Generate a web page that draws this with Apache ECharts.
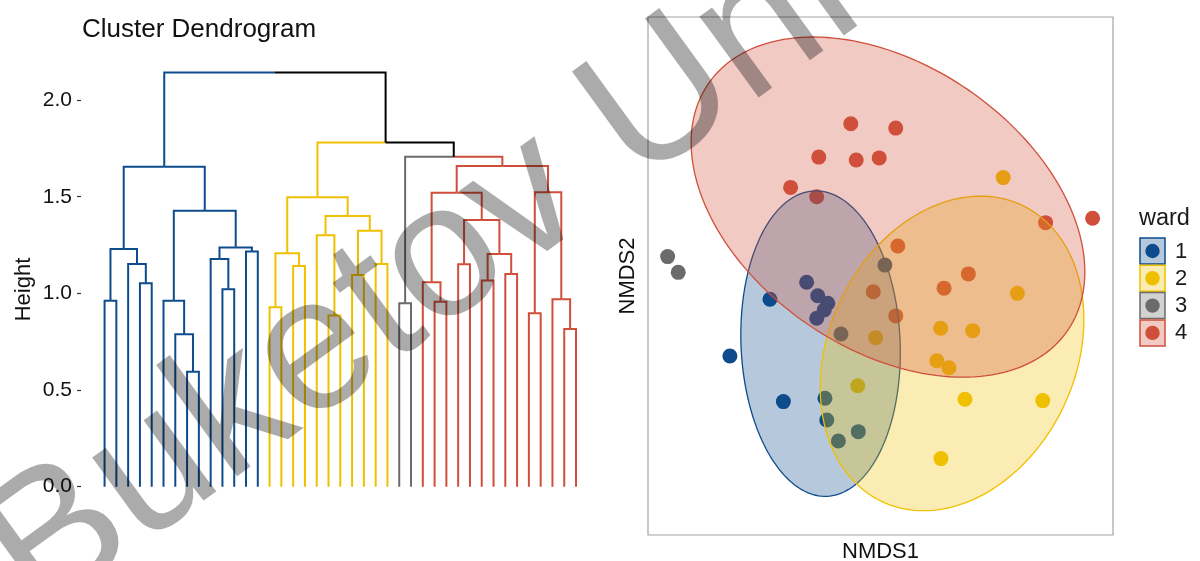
<!DOCTYPE html>
<html>
<head>
<meta charset="utf-8">
<script src="https://cdn.jsdelivr.net/npm/echarts@6/dist/echarts.min.js"></script>
<style>
  html, body { margin: 0; padding: 0; background: #ffffff; }
  #chart { width: 1200px; height: 561px; }
</style>
</head>
<body>
<div id="chart"></div>
<script>
// ---------------- Ward dendrogram ----------------
// Leaves are numbered 1..41 in plotting order. Each merge row joins two items:
// a negative number is a leaf, a positive number is an earlier merge row (1-based).
const mergeA = [-1, -4, -3, 1, -8, -7, -6, -11, -10, -13, 9, 7, 4,
                -15, -17, 14, -20, -19, -22, -24, 19, 18, 16,
                -26,
                -29, -28, -31, -33, -35, 28, 27, 26, -37, -40, -39, 33, 32,
                24, 23, 13];
const mergeB = [-2, -5, 2, 3, -9, 5, 6, -12, 8, -14, 10, 11, 12,
                -16, -18, 15, -21, 17, -23, -25, 20, 21, 22,
                -27,
                -30, 25, -32, -34, -36, 29, 30, 31, -38, -41, 34, 35, 36,
                37, 38, 39];
const mergeHeight = [0.962, 1.052, 1.152, 1.230, 0.595, 0.788, 0.962, 1.021, 1.178, 1.216, 1.237, 1.428, 1.655,
                     0.928, 1.142, 1.207, 0.885, 1.300, 1.095, 1.152, 1.324, 1.400, 1.497,
                     0.949,
                     0.957, 1.057, 1.150, 1.066, 1.100, 1.204, 1.380, 1.521, 0.897, 0.816, 0.969, 1.523, 1.659,
                     1.707, 1.780, 2.142];
const nClusters = 4;
const heightTicks = [0, 0.5, 1.0, 1.5, 2.0];

// ---------------- Clusters ----------------
const clusterNames = ['1', '2', '3', '4'];
const clusterColors = ['#0E4B8C', '#EFC000', '#6B6B6B', '#D04F3A'];

// ---------------- NMDS scores by ward cluster ----------------
const ward1X = [-0.428, -0.583, -0.376, -0.286, -0.243, -0.204, -0.218, -0.247, 0.017, -0.153, -0.215, -0.208, -0.163, -0.086];
const ward1Y = [-0.090, -0.309, -0.485, -0.024, -0.076, -0.105, -0.131, -0.163, 0.042, -0.224, -0.472, -0.556, -0.637, -0.601];
const ward2X = [0.475, 0.530, -0.019, -0.088, 0.233, 0.357, 0.218, 0.265, 0.327, 0.628, 0.234];
const ward2Y = [0.380, -0.067, -0.238, -0.424, -0.202, -0.211, -0.327, -0.354, -0.476, -0.481, -0.705];
const ward3X = [-0.824, -0.783];
const ward3Y = [0.075, 0.014];
const ward4X = [-0.115, -0.239, -0.094, -0.005, -0.348, -0.247, 0.059, 0.639, 0.821, 0.067, -0.028, 0.340, 0.246, 0.059];
const ward4Y = [0.588, 0.459, 0.448, 0.456, 0.342, 0.306, 0.571, 0.206, 0.223, 0.116, -0.061, 0.008, -0.047, -0.154];

// 95% ellipses (cluster 3 has too few points for one)
const ellipseCluster = [0, 1, 3];
const ellipseCenterX = [-0.232, 0.277, 0.029];
const ellipseCenterY = [-0.261, -0.299, 0.266];
const ellipseRadiusA = [0.590, 0.633, 0.843];
const ellipseRadiusB = [0.308, 0.478, 0.549];
const ellipseAngle = [-87.6, 64.5, -34.3];

const FONT = '"Liberation Sans", Arial, Helvetica, sans-serif';

function rgba(hex, a) {
  const n = parseInt(hex.slice(1), 16);
  return 'rgba(' + ((n >> 16) & 255) + ',' + ((n >> 8) & 255) + ',' + (n & 255) + ',' + a + ')';
}

// ---------- dendrogram layout ----------
const nMerge = mergeA.length;
const nodeX = new Array(nMerge);
const nodeLeaves = new Array(nMerge);
function info(id) {
  if (id < 0) return { x: -id, h: 0, leaves: [-id] };
  return { x: nodeX[id - 1], h: mergeHeight[id - 1], leaves: nodeLeaves[id - 1] };
}
for (let i = 0; i < nMerge; i++) {
  const a = info(mergeA[i]), b = info(mergeB[i]);
  nodeX[i] = (a.x + b.x) / 2;
  nodeLeaves[i] = a.leaves.concat(b.leaves);
}
// cut the tree into nClusters groups
const byHeight = [...Array(nMerge).keys()].sort((p, q) => mergeHeight[q] - mergeHeight[p]);
const aboveCut = new Set(byHeight.slice(0, nClusters - 1).map(i => i + 1));
const clusterRoots = [];
aboveCut.forEach(id => {
  [mergeA[id - 1], mergeB[id - 1]].forEach(c => { if (!aboveCut.has(c)) clusterRoots.push(c); });
});
clusterRoots.sort((p, q) => Math.min(...info(p).leaves) - Math.min(...info(q).leaves));
const leafCluster = {};
clusterRoots.forEach((r, k) => info(r).leaves.forEach(l => { leafCluster[l] = k; }));
const colorOf = id => aboveCut.has(id) ? '#000000' : clusterColors[leafCluster[info(id).leaves[0]]];

const segData = [];
const segColors = [];
for (let i = 0; i < nMerge; i++) {
  const h = mergeHeight[i], a = info(mergeA[i]), b = info(mergeB[i]), mid = nodeX[i];
  segData.push([a.x, a.h, a.x, h, mid, h]);
  segColors.push(colorOf(mergeA[i]));
  segData.push([mid, h, b.x, h, b.x, b.h]);
  segColors.push(colorOf(mergeB[i]));
}
const nLeaves = nMerge + 1;

// ---------- scatter data ----------
const wardX = [ward1X, ward2X, ward3X, ward4X];
const wardY = [ward1Y, ward2Y, ward3Y, ward4Y];
const scatterSeries = wardX.map((xs, k) => ({
  type: 'scatter',
  name: clusterNames[k],
  xAxisIndex: 1,
  yAxisIndex: 1,
  data: xs.map((x, j) => [x, wardY[k][j]]),
  symbol: 'circle',
  symbolSize: 15,
  itemStyle: { color: clusterColors[k], opacity: 1 },
  z: 2,
  silent: true
}));

const ellipseData = ellipseCluster.map((c, j) => [
  ellipseCenterX[j], ellipseCenterY[j], ellipseRadiusA[j], ellipseRadiusB[j], ellipseAngle[j], c
]);

// ---------- legend ----------
const legendItems = [];
legendItems.push({
  type: 'text', x: 1139, y: 219,
  style: { text: 'ward', font: '23.5px ' + FONT, fill: '#1a1a1a', verticalAlign: 'middle', align: 'left' }
});
clusterNames.forEach((nm, k) => {
  const top = 238 + k * 27.3;
  legendItems.push({
    type: 'rect', shape: { x: 1140, y: top, width: 25, height: 26 },
    style: { fill: rgba(clusterColors[k], 0.3), stroke: clusterColors[k], lineWidth: 1.5 }
  });
  legendItems.push({
    type: 'circle', shape: { cx: 1152.5, cy: top + 13, r: 7.2 },
    style: { fill: clusterColors[k] }
  });
  legendItems.push({
    type: 'text', x: 1175, y: top + 13.5,
    style: { text: nm, font: '22px ' + FONT, fill: '#1a1a1a', verticalAlign: 'middle', align: 'left' }
  });
});

const hiddenAxisParts = {
  axisLine: { show: false, onZero: false },
  axisTick: { show: false },
  axisLabel: { show: false },
  splitLine: { show: false }
};

const chart = echarts.init(document.getElementById('chart'), null, { renderer: 'canvas' });
chart.setOption({
  animation: false,
  backgroundColor: '#ffffff',
  textStyle: { fontFamily: FONT },
  title: {
    text: 'Cluster Dendrogram',
    left: 77, top: 12,
    textStyle: { fontSize: 26, fontWeight: 'normal', color: '#111111', fontFamily: FONT }
  },
  grid: [
    { left: 81, top: 61.4, width: 518.6, height: 456.2, outerBoundsMode: 'none', containLabel: false },
    { left: 648, top: 17, width: 465, height: 518, outerBoundsMode: 'none', containLabel: false,
      show: true, borderColor: '#a3a3a3', borderWidth: 1.2, backgroundColor: 'transparent' }
  ],
  xAxis: [
    { gridIndex: 0, type: 'value', min: -1, max: nLeaves + 2, show: false, axisLine: { onZero: false } },
    Object.assign({
      gridIndex: 1, type: 'value', min: -0.9, max: 0.9,
      name: 'NMDS1', nameLocation: 'middle', nameGap: 6,
      nameTextStyle: { fontSize: 22, color: '#111111', fontFamily: FONT, verticalAlign: 'top' }
    }, hiddenAxisParts)
  ],
  yAxis: [
    {
      gridIndex: 0, type: 'value', min: -0.16, max: 2.2,
      axisLine: { show: false, onZero: false },
      axisTick: { show: true, length: 4, customValues: heightTicks, lineStyle: { color: '#333333', width: 1.2 } },
      axisLabel: {
        customValues: heightTicks, margin: 9, fontSize: 21, color: '#111111', fontFamily: FONT,
        formatter: v => v.toFixed(1)
      },
      splitLine: { show: false },
      name: 'Height', nameLocation: 'middle', nameGap: 46,
      nameTextStyle: { fontSize: 22, color: '#111111', fontFamily: FONT }
    },
    Object.assign({
      gridIndex: 1, type: 'value', min: -1, max: 1,
      name: 'NMDS2', nameLocation: 'middle', nameGap: 9,
      nameTextStyle: { fontSize: 22, color: '#111111', fontFamily: FONT }
    }, hiddenAxisParts)
  ],
  series: [
    {
      type: 'custom',
      name: 'dendrogram',
      xAxisIndex: 0, yAxisIndex: 0,
      data: segData,
      dimensions: ['x1', 'y1', 'x2', 'y2', 'x3', 'y3'],
      encode: { x: [0, 2, 4], y: [1, 3, 5] },
      silent: true,
      renderItem: (params, api) => {
        const pts = [0, 2, 4].map(k => api.coord([api.value(k), api.value(k + 1)]));
        return {
          type: 'polyline',
          shape: { points: pts },
          style: { stroke: segColors[params.dataIndex], lineWidth: 2, fill: null, lineJoin: 'miter', lineCap: 'butt' }
        };
      }
    },
    ...scatterSeries,
    {
      type: 'custom',
      name: 'ellipses',
      xAxisIndex: 1, yAxisIndex: 1,
      data: ellipseData,
      encode: { x: 0, y: 1 },
      z: 3,
      silent: true,
      renderItem: (params, api) => {
        const cx = api.value(0), cy = api.value(1), ra = api.value(2), rb = api.value(3);
        const phi = api.value(4) * Math.PI / 180;
        const col = clusterColors[api.value(5)];
        const pts = [];
        for (let s = 0; s < 180; s++) {
          const t = 2 * Math.PI * s / 180;
          const ex = ra * Math.cos(t), ey = rb * Math.sin(t);
          pts.push(api.coord([cx + ex * Math.cos(phi) - ey * Math.sin(phi),
                              cy + ex * Math.sin(phi) + ey * Math.cos(phi)]));
        }
        return {
          type: 'polygon',
          shape: { points: pts },
          style: { fill: rgba(col, 0.3), stroke: col, lineWidth: 1.3 }
        };
      }
    }
  ],
  graphic: [
    { type: 'group', children: legendItems, z: 10 },
    {
      type: 'text',
      x: 8, y: 578,
      rotation: 36 * Math.PI / 180,
      z: 100,
      silent: true,
      style: {
        text: 'Buketov University',
        font: '190px ' + FONT,
        fill: 'rgba(0,0,0,0.33)',
        align: 'left',
        verticalAlign: 'middle'
      }
    }
  ]
});
</script>
</body>
</html>
